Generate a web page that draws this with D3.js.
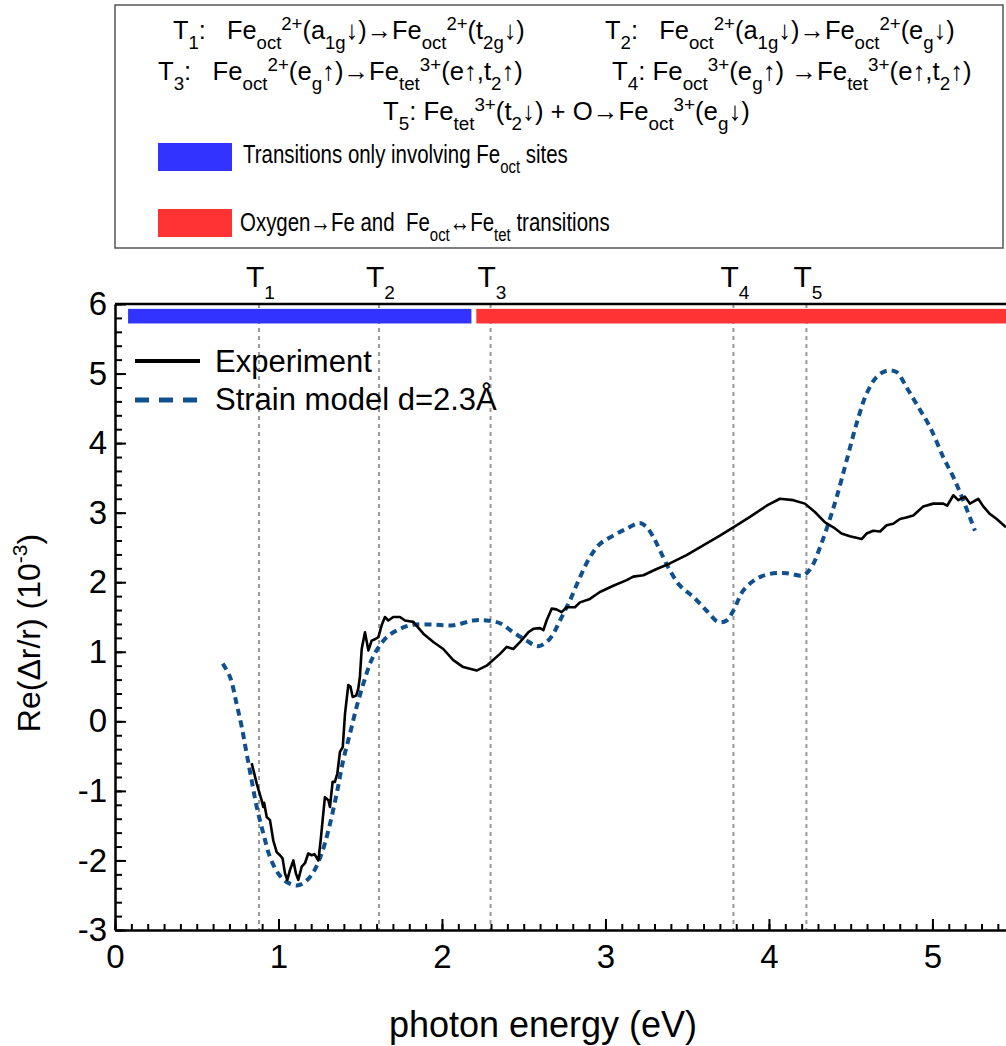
<!DOCTYPE html>
<html>
<head>
<meta charset="utf-8">
<script src="https://cdn.jsdelivr.net/npm/d3@7"></script>
<style>
  body { margin: 0; background: #fff; }
  svg { font-family: "Liberation Sans", Arial, sans-serif; }
  .pre { white-space: pre; }
</style>
</head>
<body>
<div id="chart"></div>
<script>
// Experiment (black solid line)
const expEnergy = [0.836, 0.867, 0.897, 0.907, 0.912, 0.928, 0.948, 0.968, 0.989, 1.009, 1.025, 1.040, 1.054, 1.070, 1.091, 1.107, 1.121, 1.142, 1.162, 1.182, 1.203, 1.220, 1.244, 1.258, 1.270, 1.284, 1.305, 1.315, 1.331, 1.345, 1.360, 1.376, 1.393, 1.407, 1.427, 1.440, 1.454, 1.475, 1.488, 1.498, 1.509, 1.529, 1.550, 1.570, 1.590, 1.611, 1.631, 1.651, 1.672, 1.702, 1.743, 1.774, 1.800, 1.825, 1.886, 1.947, 2.008, 2.069, 2.130, 2.212, 2.273, 2.355, 2.396, 2.436, 2.477, 2.528, 2.559, 2.600, 2.620, 2.640, 2.671, 2.700, 2.732, 2.763, 2.813, 2.844, 2.905, 2.966, 3.048, 3.130, 3.170, 3.232, 3.313, 3.394, 3.496, 3.598, 3.700, 3.782, 3.884, 3.986, 4.067, 4.149, 4.220, 4.281, 4.343, 4.394, 4.444, 4.495, 4.567, 4.597, 4.638, 4.680, 4.720, 4.760, 4.801, 4.840, 4.883, 4.944, 5.005, 5.066, 5.090, 5.128, 5.158, 5.199, 5.229, 5.280, 5.311, 5.352, 5.393, 5.450];
const expRe = [-0.60, -0.895, -1.135, -1.23, -1.17, -1.375, -1.42, -1.71, -1.88, -1.925, -1.97, -2.19, -2.28, -2.14, -2.00, -2.19, -2.28, -2.09, -2.04, -1.90, -1.925, -1.91, -2.00, -1.71, -1.42, -1.09, -1.135, -1.23, -0.87, -0.87, -0.75, -0.44, -0.37, 0.11, 0.52, 0.50, 0.35, 0.37, 0.47, 0.64, 1.04, 1.28, 1.02, 1.16, 1.18, 1.21, 1.38, 1.50, 1.45, 1.50, 1.50, 1.45, 1.44, 1.43, 1.26, 1.14, 1.04, 0.88, 0.78, 0.73, 0.80, 0.97, 1.07, 1.04, 1.14, 1.28, 1.33, 1.34, 1.31, 1.45, 1.62, 1.61, 1.57, 1.64, 1.64, 1.71, 1.76, 1.86, 1.95, 2.03, 2.08, 2.10, 2.19, 2.27, 2.39, 2.53, 2.67, 2.79, 2.94, 3.10, 3.20, 3.18, 3.13, 3.01, 2.86, 2.79, 2.70, 2.66, 2.62, 2.70, 2.74, 2.73, 2.82, 2.84, 2.91, 2.93, 2.96, 3.09, 3.13, 3.13, 3.10, 3.25, 3.18, 3.23, 3.13, 3.20, 3.09, 2.98, 2.91, 2.79];

// Strain model d=2.3 Å (blue dashed line)
const modelEnergy = [0.659, 0.703, 0.744, 0.775, 0.805, 0.836, 0.867, 0.907, 0.948, 0.999, 1.050, 1.111, 1.162, 1.213, 1.264, 1.305, 1.356, 1.396, 1.437, 1.478, 1.519, 1.560, 1.600, 1.662, 1.743, 1.825, 1.947, 2.069, 2.191, 2.273, 2.355, 2.436, 2.518, 2.589, 2.661, 2.722, 2.783, 2.844, 2.905, 2.966, 3.048, 3.130, 3.211, 3.252, 3.293, 3.333, 3.394, 3.456, 3.537, 3.619, 3.690, 3.741, 3.782, 3.843, 3.925, 4.006, 4.108, 4.210, 4.261, 4.312, 4.363, 4.414, 4.475, 4.536, 4.597, 4.658, 4.720, 4.781, 4.842, 4.903, 4.985, 5.066, 5.128, 5.188, 5.260];
const modelRe = [0.83, 0.64, 0.25, -0.08, -0.46, -0.85, -1.23, -1.61, -1.95, -2.19, -2.31, -2.36, -2.31, -2.17, -1.90, -1.57, -1.04, -0.56, -0.18, 0.21, 0.54, 0.83, 1.02, 1.21, 1.33, 1.39, 1.39, 1.38, 1.45, 1.45, 1.41, 1.28, 1.16, 1.08, 1.19, 1.45, 1.74, 2.07, 2.36, 2.55, 2.67, 2.77, 2.85, 2.79, 2.65, 2.46, 2.17, 1.95, 1.79, 1.59, 1.43, 1.45, 1.59, 1.88, 2.05, 2.12, 2.13, 2.10, 2.22, 2.50, 2.84, 3.22, 3.75, 4.28, 4.71, 4.95, 5.04, 5.02, 4.80, 4.56, 4.23, 3.80, 3.51, 3.18, 2.74];

// Transition energies (vertical dotted lines)
const transLabels = ["1", "2", "3", "4", "5"];
const transEnergy = [0.881, 1.615, 2.297, 3.783, 4.229];

// Coloured bars at the top of the plot: [start, end] in eV
const barRanges = [[0.08, 2.18], [2.21, 5.6]];
const barColors = ["#3333ff", "#ff3333"];
const barLevels = [5.72, 5.93];

const xTicks = [0, 1, 2, 3, 4, 5];
const yTicks = [-3, -2, -1, 0, 1, 2, 3, 4, 5, 6];

// text lines of the top legend box: [text, "b" | "sub" | "sup"]
const boxLines = [
  [["T", "b"], ["1", "sub"], [":   Fe", "b"], ["oct", "sub"], ["2+", "sup"], ["(a", "b"], ["1g", "sub"], ["↓)→Fe", "b"], ["oct", "sub"], ["2+", "sup"], ["(t", "b"], ["2g", "sub"], ["↓)", "b"]],
  [["T", "b"], ["2", "sub"], [":   Fe", "b"], ["oct", "sub"], ["2+", "sup"], ["(a", "b"], ["1g", "sub"], ["↓)→Fe", "b"], ["oct", "sub"], ["2+", "sup"], ["(e", "b"], ["g", "sub"], ["↓)", "b"]],
  [["T", "b"], ["3", "sub"], [":   Fe", "b"], ["oct", "sub"], ["2+", "sup"], ["(e", "b"], ["g", "sub"], ["↑)→Fe", "b"], ["tet", "sub"], ["3+", "sup"], ["(e↑,t", "b"], ["2", "sub"], ["↑)", "b"]],
  [["T", "b"], ["4", "sub"], [": Fe", "b"], ["oct", "sub"], ["3+", "sup"], ["(e", "b"], ["g", "sub"], ["↑) →Fe", "b"], ["tet", "sub"], ["3+", "sup"], ["(e↑,t", "b"], ["2", "sub"], ["↑)", "b"]],
  [["T", "b"], ["5", "sub"], [": Fe", "b"], ["tet", "sub"], ["3+", "sup"], ["(t", "b"], ["2", "sub"], ["↓) + O→Fe", "b"], ["oct", "sub"], ["3+", "sup"], ["(e", "b"], ["g", "sub"], ["↓)", "b"]],
  [["Transitions only involving Fe", "b"], ["oct", "sub"], [" sites", "b"]],
  [["Oxygen→Fe and  Fe", "b"], ["oct", "sub"], ["↔Fe", "b"], ["tet", "sub"], [" transitions", "b"]]
];
// layout of each box line: x start, x end, baseline
const boxLayout = [[173, 525, 39], [605, 955, 39], [158, 523, 80], [612, 972, 80], [383, 750, 120], [243, 568, 163], [240, 610, 231]];

const W = 1006, H = 1046;
const svg = d3.select("#chart").append("svg")
  .attr("width", W).attr("height", H);

const x = d3.scaleLinear().domain([0, 5.45]).range([115, 1006]);
const y = d3.scaleLinear().domain([-3, 6]).range([930, 304]);

// ---- legend box at the top
svg.append("rect")
  .attr("x", 115).attr("y", 5).attr("width", 888).attr("height", 243)
  .attr("fill", "none").attr("stroke", "#555").attr("stroke-width", 1.5);

function richText(g, parts, size) {
  const t = g.append("text").attr("class", "pre").attr("x", 0).attr("y", 0)
    .style("font-size", size + "px").attr("fill", "#000");
  let shift = 0;
  parts.forEach(([s, kind]) => {
    let target = 0;
    if (kind === "sub") target = 10;
    if (kind === "sup") target = -9;
    t.append("tspan")
      .attr("dy", target - shift)
      .style("font-size", kind === "b" ? size + "px" : "19px")
      .text(s);
    shift = target;
  });
  return t;
}

boxLines.forEach((parts, i) => {
  const [x0, x1, base] = boxLayout[i];
  const g = svg.append("g");
  const t = richText(g, parts, 26);
  const w = t.node().getComputedTextLength();
  g.attr("transform", `translate(${x0},${base}) scale(${(x1 - x0) / w},1)`);
});

// swatches in the legend box
svg.append("rect").attr("x", 158).attr("y", 143).attr("width", 74).attr("height", 28).attr("fill", barColors[0]);
svg.append("rect").attr("x", 158).attr("y", 209).attr("width", 74).attr("height", 28).attr("fill", barColors[1]);

// ---- transition lines
svg.append("g").selectAll("line")
  .data(transEnergy)
  .join("line")
  .attr("x1", d => x(d)).attr("x2", d => x(d))
  .attr("y1", y(6)).attr("y2", y(-3))
  .attr("stroke", "#999").attr("stroke-width", 2)
  .attr("stroke-dasharray", "4,4");

// bars on top
svg.append("g").selectAll("rect")
  .data(barRanges)
  .join("rect")
  .attr("x", d => x(d[0]))
  .attr("width", d => x(d[1]) - x(d[0]))
  .attr("y", y(barLevels[1]))
  .attr("height", y(barLevels[0]) - y(barLevels[1]))
  .attr("fill", (d, i) => barColors[i]);

// T labels above the plot
const tl = svg.append("g").selectAll("text")
  .data(transEnergy)
  .join("text")
  .attr("x", d => x(d) - 13)
  .attr("y", 287)
  .style("font-size", "30px");
tl.append("tspan").text("T");
tl.append("tspan").attr("dy", 12).style("font-size", "19px").text((d, i) => transLabels[i]);

// ---- curves
const expData = expEnergy.map((e, i) => [e, expRe[i]]);
const modelData = modelEnergy.map((e, i) => [e, modelRe[i]]);

svg.append("path")
  .datum(modelData)
  .attr("fill", "none")
  .attr("stroke", "#11508c")
  .attr("stroke-width", 4)
  .attr("stroke-dasharray", "7,5")
  .attr("d", d3.line().x(d => x(d[0])).y(d => y(d[1])).curve(d3.curveCatmullRom));

svg.append("path")
  .datum(expData)
  .attr("fill", "none")
  .attr("stroke", "#000")
  .attr("stroke-width", 2.6)
  .attr("stroke-linejoin", "round")
  .attr("d", d3.line().x(d => x(d[0])).y(d => y(d[1])));

// ---- axes
const xMinor = d3.range(0, 5.46, 0.1);
const yMinor = d3.range(-3, 6.01, 0.2);
const plainFmt = d => String(d);

svg.append("g")
  .attr("transform", `translate(0,${y(-3)})`)
  .call(d3.axisBottom(x).tickValues(xMinor).tickSize(-6).tickFormat(""))
  .call(g => g.select(".domain").remove())
  .call(g => g.selectAll("line").attr("stroke-width", 2));

svg.append("g")
  .attr("transform", `translate(${x(0)},0)`)
  .call(d3.axisLeft(y).tickValues(yMinor).tickSize(-7).tickFormat(""))
  .call(g => g.select(".domain").remove())
  .call(g => g.selectAll("line").attr("stroke-width", 2));

svg.append("g")
  .attr("transform", `translate(0,${y(-3)})`)
  .call(d3.axisBottom(x).tickValues(xTicks).tickSizeInner(-11).tickSizeOuter(0).tickPadding(15).tickFormat(plainFmt))
  .call(g => g.select(".domain").attr("stroke-width", 2.5))
  .call(g => g.selectAll("line").attr("stroke-width", 2))
  .call(g => g.selectAll("text").style("font-size", "33px").style("font-family", "Liberation Sans, Arial, sans-serif"));

svg.append("g")
  .attr("transform", `translate(${x(0)},0)`)
  .call(d3.axisLeft(y).tickValues(yTicks).tickSizeInner(-11).tickSizeOuter(0).tickPadding(8).tickFormat(plainFmt))
  .call(g => g.select(".domain").attr("stroke-width", 2.5))
  .call(g => g.selectAll("line").attr("stroke-width", 2))
  .call(g => g.selectAll("text").style("font-size", "33px").style("font-family", "Liberation Sans, Arial, sans-serif"));

// top frame line
svg.append("line")
  .attr("x1", x(0)).attr("x2", W).attr("y1", y(6)).attr("y2", y(6))
  .attr("stroke", "#000").attr("stroke-width", 2.5);

// ---- axis titles
svg.append("text")
  .attr("x", 543).attr("y", 1037)
  .attr("text-anchor", "middle")
  .style("font-size", "36px")
  .text("photon energy (eV)");

const yl = svg.append("text")
  .attr("transform", "translate(40,633) rotate(-90)")
  .attr("text-anchor", "middle")
  .style("font-size", "32px");
yl.append("tspan").text("Re(Δr/r) (10");
yl.append("tspan").attr("dy", -13).style("font-size", "21px").text("-3");
yl.append("tspan").attr("dy", 13).text(")");

// ---- legend inside the plot
const leg = svg.append("g");
leg.append("line").attr("x1", 135).attr("x2", 200).attr("y1", 361).attr("y2", 361)
  .attr("stroke", "#000").attr("stroke-width", 4);
leg.append("text").attr("x", 215).attr("y", 372).style("font-size", "31px").text("Experiment");
leg.append("line").attr("x1", 135).attr("x2", 200).attr("y1", 400).attr("y2", 400)
  .attr("stroke", "#11508c").attr("stroke-width", 5).attr("stroke-dasharray", "14,10");
leg.append("text").attr("x", 215).attr("y", 410).style("font-size", "31px").text("Strain model d=2.3Å");
</script>
</body>
</html>
